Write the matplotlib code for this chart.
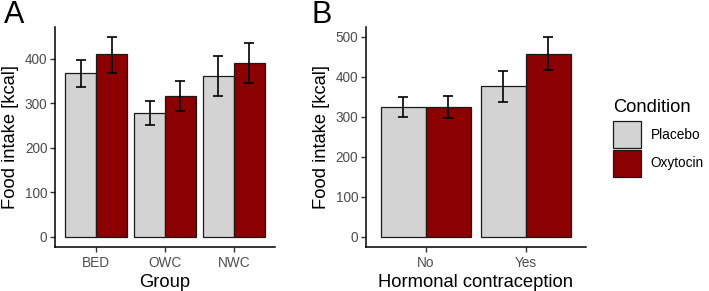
import matplotlib
matplotlib.use("Agg")
import matplotlib.pyplot as plt
from matplotlib.patches import Patch
import numpy as np

plt.rcParams['font.family'] = ['Liberation Sans', 'DejaVu Sans']

# ---------------------------------------------------------
# data
# ---------------------------------------------------------
groups_a      = ["BED", "OWC", "NWC"]
placebo_a     = [368, 278, 362]
placebo_a_lo  = [337, 251, 316]
placebo_a_hi  = [397, 306, 407]
oxytocin_a    = [410, 317, 390]
oxytocin_a_lo = [369, 283, 345]
oxytocin_a_hi = [450, 350, 435]

groups_b      = ["No", "Yes"]
placebo_b     = [325, 376]
placebo_b_lo  = [300, 336]
placebo_b_hi  = [350, 414]
oxytocin_b    = [325, 458]
oxytocin_b_lo = [297, 416]
oxytocin_b_hi = [353, 500]

conditions = ["Placebo", "Oxytocin"]
colors     = ["#D3D3D3", "#8B0000"]

TICK_GRAY = "#4D4D4D"
TEXT_SMALL = 9.8
TEXT_BIG = 13.2


def draw_panel(ax, groups, series, ymax, xlabel):
    x = np.arange(1, len(groups) + 1)
    w = 0.45
    for k, (vals, lo, hi) in enumerate(series):
        pos = x + (k - 0.5) * w
        ax.bar(pos, vals, width=w, color=colors[k], edgecolor="#1a1a1a",
               linewidth=0.9, zorder=2)
        vals = np.array(vals)
        yerr = [vals - np.array(lo), np.array(hi) - vals]
        ax.errorbar(pos, vals, yerr=yerr, fmt="none", ecolor="black",
                    elinewidth=1.2, capsize=3.4, capthick=1.2, zorder=3)

    ax.set_xlim(0.4, len(groups) + 0.6)
    ax.set_ylim(-0.05 * ymax, 1.05 * ymax)
    ax.set_xticks(x)
    ax.set_xticklabels(groups)
    ax.set_yticks(np.arange(0, ymax + 1, 100))
    ax.set_xlabel(xlabel, fontsize=TEXT_BIG, labelpad=3)
    ax.set_ylabel("Food intake [kcal]", fontsize=TEXT_BIG, labelpad=4)
    for s in ["top", "right"]:
        ax.spines[s].set_visible(False)
    for s in ["left", "bottom"]:
        ax.spines[s].set_linewidth(1.1)
    ax.tick_params(length=3.5, width=1.0, color="#333333",
                   labelcolor=TICK_GRAY, labelsize=TEXT_SMALL)
    ax.tick_params(axis="x", pad=3)
    ax.tick_params(axis="y", pad=2)


fig = plt.figure(figsize=(7.09, 2.91), dpi=100)

ax_a = fig.add_axes([0.0776, 0.1522, 0.3103, 0.756])
draw_panel(ax_a, groups_a,
           [(placebo_a, placebo_a_lo, placebo_a_hi),
            (oxytocin_a, oxytocin_a_lo, oxytocin_a_hi)],
           450, "Group")

ax_b = fig.add_axes([0.5162, 0.1522, 0.3103, 0.756])
draw_panel(ax_b, groups_b,
           [(placebo_b, placebo_b_lo, placebo_b_hi),
            (oxytocin_b, oxytocin_b_lo, oxytocin_b_hi)],
           500, "Hormonal contraception")

fig.text(0.0056, 0.92, "A", fontsize=22, va="baseline")
fig.text(0.4396, 0.92, "B", fontsize=22, va="baseline")

handles = [Patch(facecolor=c, edgecolor="#1a1a1a", linewidth=0.9) for c in colors]
leg = fig.legend(handles, conditions, title="Condition", loc="upper left",
                 bbox_to_anchor=(0.8555, 0.6846), frameon=False, borderpad=0,
                 fontsize=TEXT_SMALL, title_fontsize=TEXT_BIG, handlelength=2.0,
                 handleheight=2.68, labelspacing=0.12, handletextpad=0.75,
                 alignment="left")
leg._legend_box.sep = 4

fig.savefig("out.png", dpi=100)
